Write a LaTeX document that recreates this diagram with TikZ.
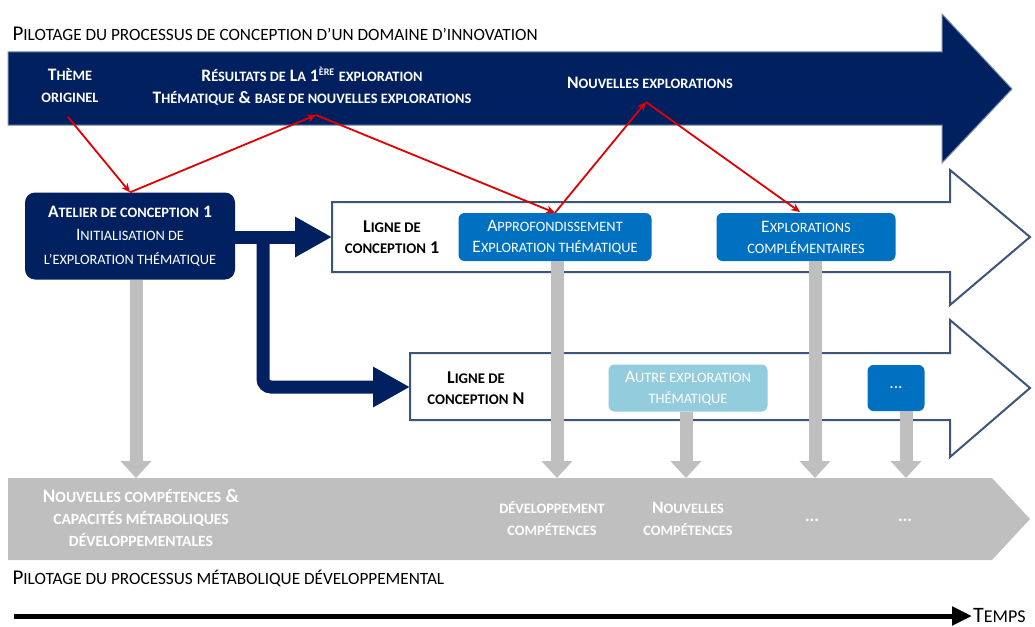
\documentclass[tikz,border=0pt]{standalone}
\usepackage{fontspec}
\setmainfont{Carlito}
\newfontfamily\scf[Scale=0.82]{Carlito}
\newcommand\lc[1]{{\scf\MakeUppercase{#1}}}
\usetikzlibrary{arrows.meta}
\definecolor{navy}{RGB}{0,32,96}
\definecolor{midblue}{RGB}{0,112,192}
\definecolor{lightblu}{RGB}{147,205,221}
\definecolor{greybar}{RGB}{191,191,191}
\definecolor{slate}{RGB}{60,85,125}
\definecolor{redline}{RGB}{225,0,0}
\tikzset{
  x=1pt, y=-1pt,
  bannertxt/.style={align=center, text=white, font=\fontsize{17.5}{22}\selectfont\bfseries},
  lignetxt/.style={align=center, text=black, font=\fontsize{18}{21}\selectfont\bfseries},
  atelierbox/.style={fill=navy, rounded corners=10pt, text=white, align=center,
     minimum width=210pt, minimum height=87pt, font=\fontsize{17.5}{23.5}\selectfont},
  bluebox/.style={fill=midblue, rounded corners=6pt, text=white, align=center,
     minimum height=48pt, font=\fontsize{17.5}{21}\selectfont},
  lightbox/.style={bluebox, fill=lightblu},
  graytxt/.style={align=center, text=white, font=\fontsize{17.5}{22}\selectfont\bfseries},
  plaintxt/.style={anchor=west, text=black, font=\fontsize{21}{22}\selectfont},
  redarr/.style={draw=redline, line width=1.8pt, -{Stealth[length=9pt,width=8pt]}},
  navyconn/.style={draw=navy, line width=13pt, -{Triangle[length=37pt,width=38pt]}},
  greyarr/.style={draw=greybar, line width=13pt, -{Triangle[length=17pt,width=30pt]}},
  timearr/.style={draw=black, line width=5pt, -{Triangle[length=20pt,width=18pt]}},
  whitearrow/.style={fill=white, draw=slate, line width=2pt},
}
\begin{document}
\begin{tikzpicture}
\useasboundingbox (0,0) rectangle (1035,626);

% top banner arrow
\fill[navy, draw=slate!70, line width=1pt] (8,52) -- (942,52) -- (942,14) -- (1012,89) -- (942,163) -- (942,125) -- (8,125) -- cycle;
\node[plaintxt] (title) at (9,34) {P\lc{ilotage du processus de conception d’un domaine d’innovation}};

% design lines
\path[whitearrow] (332,202) -- (950,202) -- (950,170) -- (1030,237) -- (950,305) -- (950,272) -- (332,272) -- cycle;
\path[whitearrow] (410,353) -- (950,353) -- (950,320) -- (1030,388) -- (950,457) -- (950,420) -- (410,420) -- cycle;

% grey bar
\fill[greybar] (8,478) -- (992,478) -- (1030,519) -- (992,560) -- (8,560) -- cycle;

% banner texts
\node[bannertxt] (theme) at (70,86) {T\lc{hème}\\\lc{originel}};
\node[bannertxt] (res) at (312,86) {R\lc{ésultats de} L\lc{a} 1\textsuperscript{\lc{ère}} \lc{exploration}\\T\lc{hématique} \& \lc{base de nouvelles explorations}};
\node[bannertxt] (nouv) at (650,83) {N\lc{ouvelles explorations}};

% boxes
\node[atelierbox] (atelier) at (130,236) {\textbf{A\lc{telier de conception} 1}\\I\lc{nitialisation de}\\\lc{l’exploration thématique}};
\node[lignetxt] (l1) at (392,237) {L\lc{igne de}\\\lc{conception} 1};
\node[lignetxt] (ln) at (476,388) {L\lc{igne de}\\\lc{conception} N};
\node[bluebox, minimum width=193pt] (appro) at (555,237) {A\lc{pprofondissement}\\E\lc{xploration thématique}};
\node[bluebox, minimum width=179pt] (explo) at (806,237) {E\lc{xplorations}\\\lc{complémentaires}};
\node[lightbox, minimum width=159pt, minimum height=47pt] (autre) at (688,388) {A\lc{utre exploration}\\\lc{thématique}};
\node[bluebox, minimum width=57pt, minimum height=46pt] (dots) at (896,388) {...};

% navy connectors
\coordinate (l1w) at (332,237);
\coordinate (lnw) at (410,387);
\coordinate (split) at (263,237);
\draw[navyconn] (atelier.east |- l1w) -- (l1w);
\draw[navyconn, rounded corners=8pt] (split) |- (lnw);

% grey bar texts
\node[graytxt, font=\fontsize{19}{22}\selectfont\bfseries] (g1) at (141,518) {N\lc{ouvelles compétences} \&\\\lc{capacités métaboliques}\\\lc{développementales}};
\node[graytxt] (g2) at (552,519) {\lc{développement}\\\lc{compétences}};
\node[graytxt] (g3) at (688,519) {N\lc{ouvelles}\\\lc{compétences}};
\node[graytxt] (g4) at (812,520) {...};
\node[graytxt] (g5) at (905,520) {...};

% grey arrows
\coordinate (b1) at (136,478);
\coordinate (b2) at (557,478);
\coordinate (b3) at (686,478);
\coordinate (b4) at (815,478);
\coordinate (b5) at (906,478);
\draw[greyarr] (atelier.south -| b1) -- (b1);
\draw[greyarr] (appro.south -| b2) -- (b2);
\draw[greyarr] (autre.south -| b3) -- (b3);
\draw[greyarr] (explo.south -| b4) -- (b4);
\draw[greyarr] (dots.south -| b5) -- (b5);

% red chain
\coordinate (rA) at (68,117);
\coordinate (rB) at (316,115);
\coordinate (rC) at (646,102);
\coordinate (rD) at (800,212);
\draw[redarr] (rA) -- (atelier.north);
\draw[redarr] (atelier.north) -- (rB);
\draw[redarr] (rB) -- (appro.north);
\draw[redarr] (appro.north) -- (rC);
\draw[redarr] (rC) -- (rD);

% bottom
\node[plaintxt] (bottitle) at (9,578) {P\lc{ilotage du processus métabolique développemental}};
\node[anchor=base west, inner sep=1pt, font=\fontsize{22}{22}\selectfont] (temps) at (972,622) {T\lc{emps}};
\coordinate (t0) at (14,616);
\draw[timearr] (t0) -- (temps.west |- t0);
\end{tikzpicture}
\end{document}
